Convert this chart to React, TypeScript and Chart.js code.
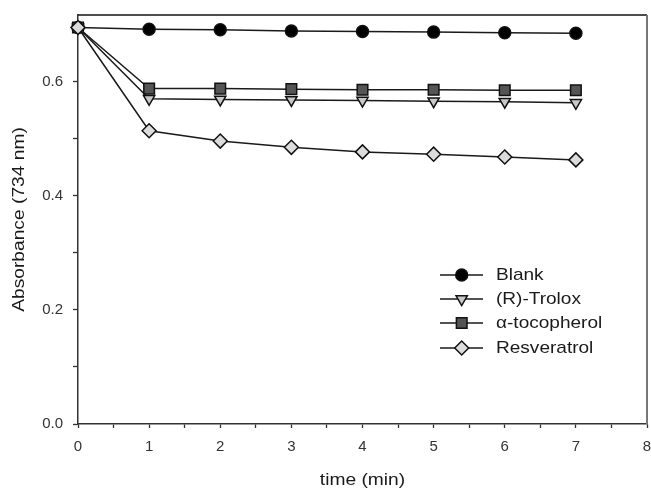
import React, { useEffect, useRef } from 'react';
import { Chart, registerables } from 'chart.js';
import { drawPoint } from 'chart.js/helpers';

Chart.register(...registerables);

// ---- data ----
const timeMin = [0, 1, 2, 3, 4, 5, 6, 7];
const blank = [0.695, 0.692, 0.691, 0.689, 0.688, 0.687, 0.686, 0.685];
const trolox = [0.695, 0.570, 0.569, 0.568, 0.567, 0.566, 0.565, 0.563];
const tocopherol = [0.695, 0.588, 0.588, 0.587, 0.586, 0.586, 0.585, 0.585];
const resveratrol = [0.695, 0.514, 0.496, 0.485, 0.477, 0.473, 0.468, 0.463];
const seriesLabels = ['Blank', '(R)-Trolox', 'α-tocopherol', 'Resveratrol'];
const xTitle = 'time (min)';
const yTitle = 'Absorbance (734 nm)';

const FONT = '"Liberation Sans", Arial, Helvetica, sans-serif';

function drawText(ctx: CanvasRenderingContext2D, text: string, x: number, y: number, size: number, sx: number, rot: number, align: CanvasTextAlign) {
  ctx.save();
  ctx.translate(x, y);
  ctx.rotate(rot);
  ctx.scale(sx, 1);
  ctx.font = `${size}px ${FONT}`;
  ctx.fillStyle = '#1a1a1a';
  ctx.textAlign = align;
  ctx.textBaseline = 'middle';
  ctx.fillText(text, 0, 0);
  ctx.restore();
}

const decorPlugin = {
  id: 'decor',
  afterDatasetsDraw(chart: any) {
    const ctx: CanvasRenderingContext2D = chart.ctx;
    const a = chart.chartArea;
    ctx.save();
    // top frame
    ctx.strokeStyle = '#111';
    ctx.lineWidth = 1.5;
    ctx.beginPath();
    ctx.moveTo(a.left, a.top);
    ctx.lineTo(a.right, a.top);
    ctx.stroke();
    // right frame
    ctx.strokeStyle = '#777';
    ctx.lineWidth = 2;
    ctx.beginPath();
    ctx.moveTo(a.right, a.top);
    ctx.lineTo(a.right, a.bottom);
    ctx.stroke();
    ctx.restore();

    // axis titles
    drawText(ctx, xTitle, (a.left + a.right) / 2, 480, 17, 1.13, 0, 'center');
    drawText(ctx, yTitle, 19.5, (a.top + a.bottom) / 2, 17, 1.13, -Math.PI / 2, 'center');

    // legend
    const rows = [275, 299, 323, 348];
    chart.data.datasets.forEach((ds: any, i: number) => {
      const y = rows[i];
      ctx.save();
      ctx.strokeStyle = ds.borderColor;
      ctx.lineWidth = ds.borderWidth;
      ctx.beginPath();
      ctx.moveTo(440, y);
      ctx.lineTo(483, y);
      ctx.stroke();
      ctx.fillStyle = ds.pointBackgroundColor;
      ctx.strokeStyle = ds.pointBorderColor;
      ctx.lineWidth = ds.pointBorderWidth;
      drawPoint(ctx, { pointStyle: ds.pointStyle, rotation: ds.pointRotation || 0, radius: ds.pointRadius, borderWidth: ds.pointBorderWidth }, 461.7, y);
      ctx.restore();
      drawText(ctx, ds.label, 496, y, 17, 1.12, 0, 'left');
    });
  },
};

function pts(values: number[]) {
  return timeMin.map((t, i) => ({ x: t, y: values[i] }));
}

export default function App() {
  const ref = useRef<HTMLCanvasElement>(null);
  useEffect(() => {
    document.body.style.margin = '0';
    const common = {
      borderColor: '#1a1a1a',
      borderWidth: 1.5,
      pointBorderColor: '#111',
      pointBorderWidth: 1.5,
      clip: false as any,
      tension: 0,
    };
    const chart = new Chart(ref.current!, {
      type: 'line',
      data: {
        datasets: [
          { ...common, label: seriesLabels[0], data: pts(blank), pointStyle: 'circle', pointRadius: 6, pointBackgroundColor: '#000', order: 4 },
          { ...common, label: seriesLabels[1], data: pts(trolox), pointStyle: 'triangle', pointRotation: 180, pointRadius: 6.5, pointBackgroundColor: '#c8c8c8', order: 3 },
          { ...common, label: seriesLabels[2], data: pts(tocopherol), pointStyle: 'rect', pointRadius: 7.5, pointBackgroundColor: '#555', order: 2 },
          { ...common, label: seriesLabels[3], data: pts(resveratrol), pointStyle: 'rectRot', pointRadius: 7, pointBackgroundColor: '#dcdcdc', order: 1 },
        ] as any,
      },
      options: {
        animation: false,
        responsive: false,
        maintainAspectRatio: false,
        devicePixelRatio: 1,
        layout: { autoPadding: false, padding: { top: 15, right: 4, left: 0, bottom: 0 } },
        plugins: { legend: { display: false }, tooltip: { enabled: false } },
        scales: {
          x: {
            type: 'linear',
            min: 0,
            max: 8,
            grid: { drawOnChartArea: false, drawTicks: true, tickLength: 4, color: '#333', tickWidth: 1.3 },
            border: { display: true, color: '#333', width: 1.5 },
            ticks: {
              stepSize: 0.5,
              autoSkip: false,
              maxRotation: 0,
              padding: 10,
              color: '#333',
              font: { family: FONT, size: 15 },
              callback: (v: any) => (Math.abs(v - Math.round(v)) < 1e-6 ? String(Math.round(v)) : ''),
            },
            afterFit: (s: any) => { s.height = 66; s.paddingLeft = 0; s.paddingRight = 0; },
          },
          y: {
            type: 'linear',
            min: 0,
            max: 0.717,
            grid: { drawOnChartArea: false, drawTicks: true, tickLength: 5, color: '#333', tickWidth: 1.3 },
            border: { display: true, color: '#333', width: 1.5 },
            afterBuildTicks: (s: any) => {
              s.ticks = s.ticks.filter((t: any) => Math.abs(t.value * 10 - Math.round(t.value * 10)) < 1e-6 && t.value <= 0.7 + 1e-9);
            },
            ticks: {
              stepSize: 0.1,
              autoSkip: false,
              padding: 10,
              color: '#333',
              font: { family: FONT, size: 15 },
              callback: (v: any) => {
                const k = Math.round(v * 10);
                return k % 2 === 0 ? (k / 10).toFixed(1) : '';
              },
            },
            afterFit: (s: any) => { s.width = 78; s.paddingTop = 0; s.paddingBottom = 0; },
          },
        },
      },
      plugins: [decorPlugin],
    });
    return () => chart.destroy();
  }, []);
  return (
    <div style={{ width: 651, height: 490, background: '#fff' }}>
      <canvas ref={ref} width={651} height={490} style={{ display: 'block', width: 651, height: 490 }} />
    </div>
  );
}
